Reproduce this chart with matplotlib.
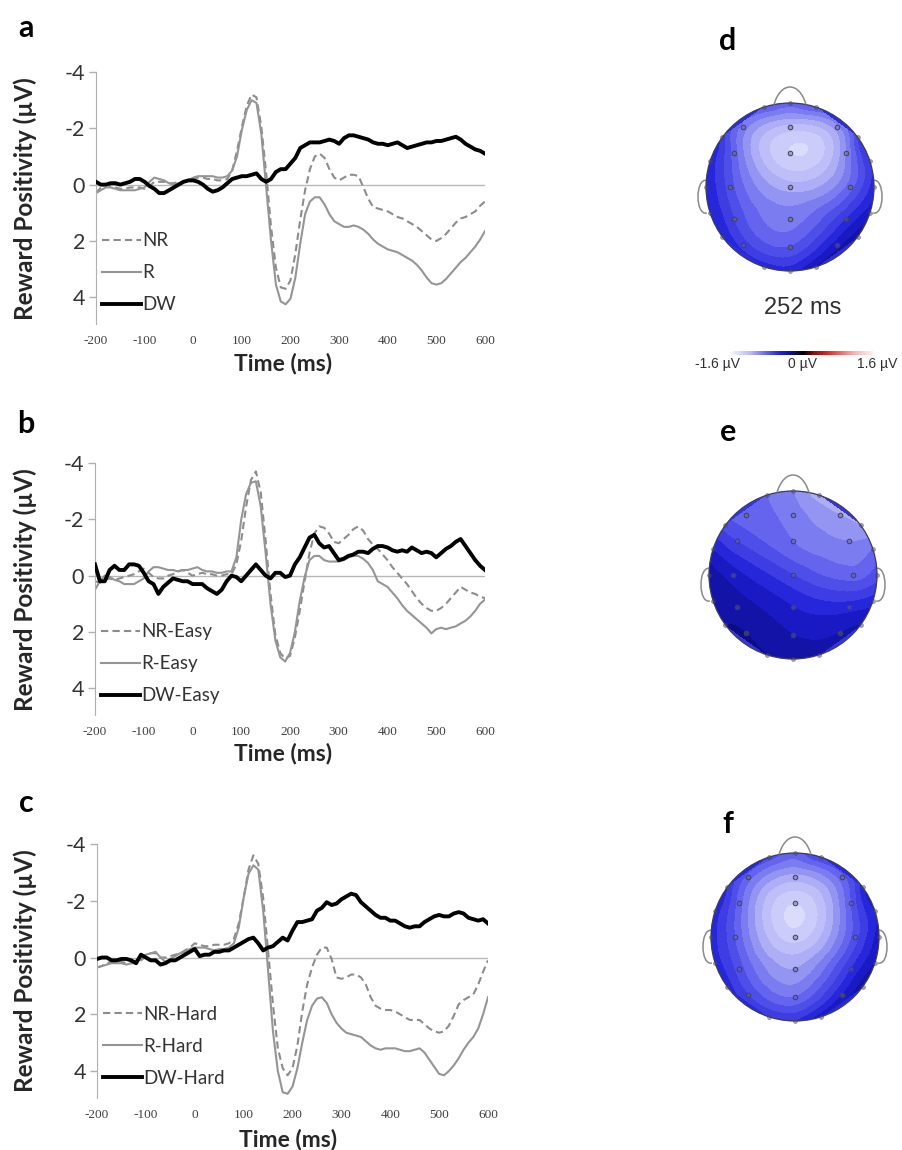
import numpy as np
import matplotlib
matplotlib.use("Agg")
import matplotlib.pyplot as plt
import matplotlib.tri as mtri
from matplotlib.colors import LinearSegmentedColormap, Normalize
from matplotlib.cm import ScalarMappable
from matplotlib.path import Path
from matplotlib.patches import PathPatch, Circle

plt.rcParams['font.family'] = ['Lato', 'DejaVu Sans']

# ---- data ----
t = np.arange(-200, 601, 10)

a_nr = [0.3, 0.1, 0.0, 0.05, 0.1, 0.15, 0.15, 0.1, 0.1, 0.1, 0.15, 0.05, -0.1, -0.1, -0.1, -0.05, -0.05, -0.1, -0.1, -0.15,
        -0.2, -0.25, -0.25, -0.2, -0.2, -0.15, -0.15, -0.2, -0.5, -1.2, -2.05, -2.8, -3.2, -3.1, -2.05, -0.4, 1.5, 2.95, 3.65, 3.7,
        3.4, 2.45, 1.25, 0.2, -0.55, -1.0, -1.1, -0.95, -0.55, -0.25, -0.15, -0.25, -0.35, -0.35, -0.3, 0.1, 0.5, 0.8, 0.85, 0.9,
        0.95, 1.05, 1.15, 1.2, 1.3, 1.4, 1.5, 1.65, 1.8, 1.95, 2.0, 1.9, 1.75, 1.55, 1.35, 1.2, 1.15, 1.05, 0.95, 0.75, 0.6]
a_r = [0.3, 0.2, 0.1, 0.1, 0.15, 0.2, 0.2, 0.2, 0.2, 0.15, 0.1, -0.1, -0.25, -0.2, -0.15, -0.05, 0.0, -0.05, -0.1, -0.15,
       -0.25, -0.3, -0.3, -0.3, -0.3, -0.25, -0.25, -0.3, -0.5, -1.0, -1.95, -2.65, -3.0, -2.9, -1.8, 0.1, 2.0, 3.55, 4.15, 4.25,
       4.05, 3.3, 2.1, 1.05, 0.6, 0.45, 0.45, 0.7, 1.05, 1.3, 1.4, 1.5, 1.5, 1.45, 1.5, 1.6, 1.75, 1.95, 2.1, 2.2,
       2.3, 2.35, 2.4, 2.5, 2.6, 2.7, 2.85, 3.05, 3.3, 3.5, 3.55, 3.5, 3.35, 3.15, 2.95, 2.75, 2.6, 2.4, 2.2, 1.95, 1.65]
a_dw = [-0.1, 0.0, 0.0, -0.05, -0.05, 0.0, -0.05, -0.1, -0.2, -0.2, -0.1, 0.05, 0.15, 0.3, 0.3, 0.2, 0.1, 0.0, -0.1, -0.15,
        -0.15, -0.1, 0.0, 0.15, 0.25, 0.2, 0.1, -0.05, -0.2, -0.25, -0.3, -0.3, -0.35, -0.4, -0.2, -0.1, -0.2, -0.45, -0.55, -0.55,
        -0.75, -0.95, -1.3, -1.4, -1.5, -1.5, -1.5, -1.55, -1.6, -1.55, -1.45, -1.65, -1.75, -1.75, -1.7, -1.65, -1.6, -1.5, -1.45, -1.45,
        -1.4, -1.45, -1.5, -1.4, -1.3, -1.35, -1.4, -1.45, -1.5, -1.5, -1.55, -1.55, -1.6, -1.65, -1.7, -1.6, -1.45, -1.35, -1.25, -1.2, -1.1]

b_nr = [0.2, 0.25, 0.15, 0.1, 0.15, 0.1, 0.05, 0.0, -0.05, -0.15, -0.25, -0.1, 0.05, 0.1, 0.1, 0.0, -0.05, -0.15, -0.2, -0.1,
        0.0, -0.05, -0.1, -0.05, -0.05, 0.0, 0.0, -0.05, -0.05, -0.4, -1.25, -2.45, -3.4, -3.7, -2.95, -1.25, 0.65, 2.1, 2.75, 2.95,
        2.85, 2.2, 1.25, 0.2, -0.8, -1.5, -1.75, -1.7, -1.5, -1.2, -1.15, -1.3, -1.45, -1.65, -1.75, -1.6, -1.3, -1.1, -0.95, -0.75,
        -0.55, -0.3, -0.1, 0.1, 0.3, 0.55, 0.8, 1.0, 1.15, 1.25, 1.25, 1.15, 1.0, 0.8, 0.6, 0.4, 0.5, 0.6, 0.65, 0.75, 0.8]
b_r = [0.5, 0.2, 0.0, 0.05, 0.15, 0.2, 0.3, 0.3, 0.3, 0.2, 0.1, -0.15, -0.3, -0.3, -0.25, -0.2, -0.2, -0.15, -0.2, -0.2,
       -0.25, -0.3, -0.2, -0.15, -0.15, -0.1, -0.1, -0.15, -0.15, -0.65, -2.0, -2.9, -3.3, -3.35, -2.45, -0.8, 1.0, 2.3, 2.9, 3.05,
       2.75, 2.0, 0.9, 0.05, -0.55, -0.7, -0.7, -0.55, -0.5, -0.5, -0.5, -0.55, -0.65, -0.7, -0.7, -0.6, -0.45, -0.2, 0.2, 0.3,
       0.4, 0.6, 0.8, 1.05, 1.25, 1.4, 1.55, 1.7, 1.85, 2.05, 1.9, 1.85, 1.9, 1.85, 1.8, 1.7, 1.6, 1.45, 1.25, 1.0, 0.85]
b_dw = [-0.4, 0.2, 0.2, -0.2, -0.35, -0.2, -0.2, -0.4, -0.4, -0.35, -0.1, 0.2, 0.3, 0.65, 0.4, 0.25, 0.1, 0.15, 0.2, 0.2,
        0.3, 0.3, 0.3, 0.45, 0.55, 0.65, 0.5, 0.2, 0.0, 0.05, 0.2, 0.0, -0.2, -0.4, -0.2, 0.0, 0.1, -0.1, -0.1, 0.05,
        0.0, -0.4, -0.65, -1.0, -1.35, -1.45, -1.15, -1.0, -1.05, -0.8, -0.55, -0.6, -0.7, -0.75, -0.85, -0.85, -0.8, -0.95, -1.05, -1.05,
        -1.0, -0.9, -0.85, -0.9, -0.85, -1.0, -0.9, -0.8, -0.85, -0.8, -0.65, -0.8, -0.95, -1.05, -1.2, -1.3, -1.05, -0.8, -0.55, -0.35, -0.2]

c_nr = [0.35, 0.3, 0.2, 0.15, 0.1, 0.15, 0.2, 0.2, 0.2, 0.1, -0.05, -0.15, -0.15, 0.0, 0.0, -0.05, -0.1, -0.15, -0.25, -0.35,
        -0.5, -0.45, -0.4, -0.4, -0.45, -0.45, -0.45, -0.5, -0.65, -1.2, -2.1, -3.1, -3.6, -3.3, -2.1, -0.25, 1.65, 3.2, 3.9, 4.15,
        3.9, 3.1, 1.9, 0.95, 0.35, -0.1, -0.35, -0.35, 0.05, 0.7, 0.75, 0.7, 0.6, 0.6, 0.7, 0.95, 1.4, 1.7, 1.8, 1.85,
        1.85, 1.9, 2.0, 2.1, 2.2, 2.2, 2.2, 2.35, 2.5, 2.6, 2.65, 2.6, 2.4, 2.05, 1.65, 1.5, 1.4, 1.3, 0.95, 0.5, 0.1]
c_r = [0.35, 0.3, 0.25, 0.2, 0.2, 0.2, 0.25, 0.2, 0.1, 0.0, -0.1, -0.15, -0.2, 0.0, 0.15, 0.05, -0.05, -0.15, -0.2, -0.3,
       -0.35, -0.35, -0.35, -0.3, -0.25, -0.3, -0.3, -0.35, -0.5, -1.05, -2.1, -2.95, -3.25, -3.1, -1.65, 0.45, 2.6, 4.0, 4.75, 4.8,
       4.55, 3.9, 3.0, 2.2, 1.7, 1.45, 1.4, 1.6, 2.0, 2.3, 2.5, 2.65, 2.7, 2.75, 2.8, 2.95, 3.1, 3.2, 3.25, 3.2,
       3.2, 3.2, 3.25, 3.3, 3.3, 3.25, 3.2, 3.35, 3.6, 3.85, 4.1, 4.15, 4.0, 3.8, 3.55, 3.25, 3.0, 2.8, 2.5, 2.0, 1.4]
c_dw = [0.05, 0.0, 0.0, 0.1, 0.1, 0.05, 0.05, 0.1, 0.2, -0.1, 0.0, 0.1, 0.1, 0.25, 0.2, 0.1, 0.1, 0.0, -0.1, -0.2,
        -0.3, -0.05, -0.1, -0.1, -0.2, -0.2, -0.25, -0.25, -0.35, -0.45, -0.55, -0.65, -0.7, -0.5, -0.25, -0.35, -0.4, -0.55, -0.7, -0.6,
        -0.95, -1.25, -1.25, -1.3, -1.35, -1.65, -1.75, -1.95, -1.85, -1.9, -2.05, -2.15, -2.25, -2.2, -1.95, -1.8, -1.65, -1.5, -1.4, -1.4,
        -1.3, -1.3, -1.2, -1.1, -1.05, -1.1, -1.1, -1.25, -1.35, -1.45, -1.5, -1.45, -1.45, -1.55, -1.6, -1.55, -1.4, -1.35, -1.3, -1.35, -1.2]

panel_labels = ['a', 'b', 'c']
legend_names = [['NR', 'R', 'DW'], ['NR-Easy', 'R-Easy', 'DW-Easy'], ['NR-Hard', 'R-Hard', 'DW-Hard']]
x_ticks = [-200, -100, 0, 100, 200, 300, 400, 500, 600]
y_ticks = [-4, -2, 0, 2, 4]

# electrode layout (head radius 1, nose up); first 15 inner, rest on the rim
elec_x = [-0.56, 0.0, 0.56, -0.67, 0.0, 0.67, -0.72, 0.0, 0.72, -0.67, 0.0, 0.67, -0.56, 0.0, 0.56,
          -0.31, 0.0, 0.31, -0.81, 0.81, -0.95, 0.95, -1.0, 1.0, -0.95, 0.95, -0.81, 0.81, -0.31, 0.0, 0.31]
elec_y = [0.71, 0.71, 0.71, 0.40, 0.40, 0.40, 0.0, 0.0, 0.0, -0.38, -0.38, -0.38, -0.69, -0.71, -0.69,
          0.95, 1.0, 0.95, 0.59, 0.59, 0.31, 0.31, 0.0, 0.0, -0.31, -0.31, -0.59, -0.59, -0.95, -1.0, -0.95]

d_vals = [-0.95, -1.25, -1.05, -0.85, -1.4, -1.0, -0.75, -1.15, -0.85, -0.7, -0.95, -0.6, -0.65, -0.8, -0.45,
          -0.8, -0.85, -0.8, -0.65, -0.7, -0.55, -0.6, -0.5, -0.55, -0.5, -0.45, -0.5, -0.35, -0.55, -0.55, -0.4]
e_vals = [-0.85, -0.95, -1.1, -0.7, -0.9, -1.0, -0.45, -0.7, -0.85, -0.35, -0.5, -0.55, -0.3, -0.4, -0.4,
          -0.9, -1.0, -1.15, -0.75, -1.1, -0.5, -0.9, -0.35, -0.75, -0.3, -0.55, -0.3, -0.4, -0.3, -0.3, -0.35]
f_vals = [-0.85, -1.15, -0.85, -0.85, -1.4, -0.8, -0.8, -1.35, -0.75, -0.75, -1.1, -0.6, -0.7, -0.9, -0.5,
          -0.75, -0.85, -0.7, -0.6, -0.55, -0.55, -0.5, -0.55, -0.45, -0.55, -0.4, -0.55, -0.35, -0.6, -0.6, -0.45]
topo_labels = ['d', 'e', 'f']
topo_time = '252 ms'
scale_lim = 1.6

W, H = 903.0, 1150.0
fig = plt.figure(figsize=(W / 100, H / 100), dpi=100)


def px_box(x0, x1, ytop, ybot):
    return [x0 / W, 1 - ybot / H, (x1 - x0) / W, (ybot - ytop) / H]


# ---- ERP panels ----
erp_boxes = [px_box(96, 485, 72, 324), px_box(95, 485, 463, 715), px_box(97, 488, 844, 1098)]
ylabel_y = [199, 590, 971]
xlabel_xy = [(283, 363), (283, 753), (288, 1140)]
letter_xy = [(26, 37), (26, 433), (26, 812)]
series = [(a_nr, a_r, a_dw), (b_nr, b_r, b_dw), (c_nr, c_r, c_dw)]

for i in range(3):
    ax = fig.add_axes(erp_boxes[i])
    nr, r, dw = series[i]
    ax.axhline(0, color='#b8b8b8', lw=1.0, zorder=1)
    ax.plot(t, nr, color='#8c8c8c', lw=1.5, ls=(0, (3.5, 2)), label=legend_names[i][0], zorder=2)
    ax.plot(t, r, color='#959595', lw=1.5, label=legend_names[i][1], zorder=2)
    ax.plot(t, dw, color='black', lw=2.8, label=legend_names[i][2], zorder=3)
    ax.set_xlim(-200, 600)
    ax.set_ylim(4.95, -4)
    for s in ['top', 'right', 'bottom']:
        ax.spines[s].set_visible(False)
    ax.spines['left'].set_color('#b0b0b0')
    ax.set_yticks(y_ticks)
    ax.set_yticklabels([str(v) for v in y_ticks], fontsize=15.5, color='#333333')
    ax.tick_params(axis='y', length=5, width=1, color='#b0b0b0', pad=3)
    ax.set_xticks(x_ticks)
    ax.set_xticklabels([str(v) for v in x_ticks], fontsize=9.5, color='#404040', family='Liberation Serif')
    ax.tick_params(axis='x', length=0, pad=8)
    ax.patch.set_alpha(0)
    leg = ax.legend(loc='upper left', bbox_to_anchor=(-0.005, 0.393), frameon=False, fontsize=13.5,
                    handlelength=2.1, handletextpad=0.05, labelspacing=0.8, borderaxespad=0)
    for txt in leg.get_texts():
        txt.set_color('#333333')
    fig.text(25 / W, 1 - ylabel_y[i] / H, 'Reward Positivity (µV)', rotation=90, ha='center', va='center',
             fontsize=17.5, fontweight='bold', color='#262626')
    fig.text(xlabel_xy[i][0] / W, 1 - xlabel_xy[i][1] / H, 'Time (ms)', ha='center', va='center',
             fontsize=16.5, fontweight='bold', color='#262626')
    fig.text(letter_xy[i][0] / W, 1 - letter_xy[i][1] / H, panel_labels[i], ha='center', va='baseline',
             fontsize=22, fontweight='bold', color='black')

# ---- topographic maps ----
cmap = LinearSegmentedColormap.from_list('bkr', [
    (0.0, (0.93, 0.93, 1.0)), (0.125, (0.72, 0.72, 0.97)), (0.25, (0.35, 0.35, 0.93)),
    (0.34, (0.12, 0.12, 0.85)), (0.42, (0.05, 0.05, 0.55)), (0.5, (0.0, 0.0, 0.0)),
    (0.58, (0.55, 0.05, 0.05)), (0.66, (0.85, 0.12, 0.12)), (0.75, (0.93, 0.35, 0.35)),
    (0.875, (0.97, 0.72, 0.72)), (1.0, (1.0, 0.93, 0.93))])
norm = Normalize(-scale_lim, scale_lim)
levels = np.linspace(-scale_lim, scale_lim, 33)

topo_centers = [(790, 187), (793, 575), (795, 937)]
topo_letter_xy = [(728, 50), (728, 441), (728, 833)]
head_r = 84.0
tri = mtri.Triangulation(elec_x, elec_y)
refiner = mtri.UniformTriRefiner(tri)

for vals, (cx, cy), lab, (lx, ly) in zip([d_vals, e_vals, f_vals], topo_centers, topo_labels, topo_letter_xy):
    half = 1.25 * head_r
    ax = fig.add_axes(px_box(cx - half, cx + half, cy - half, cy + half))
    ax.set_xlim(-1.25, 1.25)
    ax.set_ylim(-1.25, 1.25)
    ax.set_aspect('equal')
    ax.axis('off')
    bg = Circle((0, 0), 1.0, facecolor=cmap(norm(np.mean(vals[15:]))), edgecolor='none', zorder=1)
    ax.add_patch(bg)
    tri_r, z_r = refiner.refine_field(np.array(vals), subdiv=4)
    cs = ax.tricontourf(tri_r, z_r, levels=levels, cmap=cmap, norm=norm, zorder=2, extend='both')
    clip = Circle((0, 0), 1.0, transform=ax.transData)
    cs.set_clip_path(clip)
    ax.add_patch(Circle((0, 0), 1.0, facecolor='none', edgecolor='#3c3c5c', lw=0.9, zorder=4))
    nose = Path([(-0.19, 0.982), (-0.11, 1.26), (0.11, 1.26), (0.19, 0.982)],
                [Path.MOVETO, Path.CURVE4, Path.CURVE4, Path.CURVE4])
    ax.add_patch(PathPatch(nose, facecolor='none', edgecolor='#8a8a8a', lw=1.1, zorder=4))
    for sgn in (-1, 1):
        ear = Path([(sgn * 0.995, 0.08), (sgn * 1.13, 0.1), (sgn * 1.13, -0.34), (sgn * 0.99, -0.31)],
                   [Path.MOVETO, Path.CURVE4, Path.CURVE4, Path.CURVE4])
        ax.add_patch(PathPatch(ear, facecolor='none', edgecolor='#8a8a8a', lw=1.1, zorder=0))
    ax.plot(elec_x[:15], elec_y[:15], 'o', ms=3.3, mfc=(0.4, 0.4, 0.55, 0.45), mec='#40405a', mew=0.7,
            ls='none', zorder=5)
    ax.plot(elec_x[15:], elec_y[15:], 'o', ms=2.8, mfc=(0.3, 0.3, 0.4, 0.5), mec=(0.25, 0.25, 0.35, 0.55), mew=0.5,
            ls='none', zorder=5)
    fig.text(lx / W, 1 - ly / H, lab, ha='center', va='baseline', fontsize=22, fontweight='bold', color='black')

fig.text(803 / W, 1 - 308 / H, topo_time, ha='center', va='center', fontsize=17,
         family='Liberation Sans', color='#303030')

cax = fig.add_axes(px_box(733, 873, 351, 355))
cb = fig.colorbar(ScalarMappable(norm=norm, cmap=cmap), cax=cax, orientation='horizontal')
cb.outline.set_visible(False)
cax.set_xticks([])
for txt, x in zip(['-1.6 µV', '0 µV', '1.6 µV'], [718, 803, 877]):
    fig.text(x / W, 1 - 364 / H, txt, ha='center', va='center', fontsize=10,
             family='Liberation Sans', color='#303030')

fig.savefig('out.png', dpi=100, facecolor='white')
